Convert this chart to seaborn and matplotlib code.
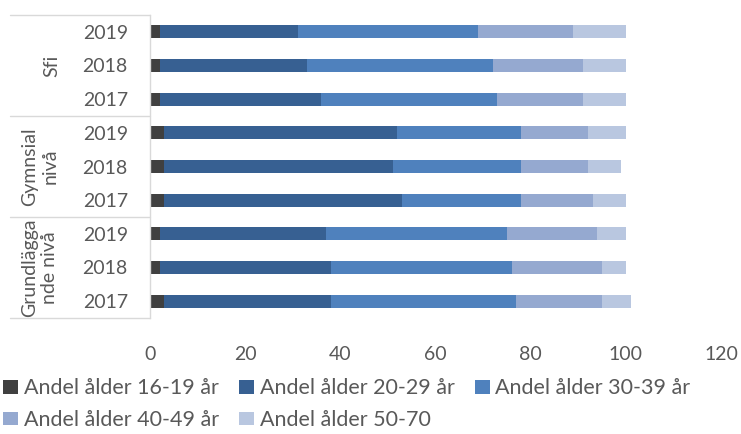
import numpy as np
import pandas as pd
import seaborn as sns
import matplotlib.pyplot as plt

# Data (andel i procent per åldersgrupp)
groups = ["Sfi", "Sfi", "Sfi",
          "Gymnsial\nnivå", "Gymnsial\nnivå", "Gymnsial\nnivå",
          "Grundlägga\nnde nivå", "Grundlägga\nnde nivå", "Grundlägga\nnde nivå"]
years = ["2019", "2018", "2017", "2019", "2018", "2017", "2019", "2018", "2017"]
series_names = ["Andel ålder 16-19 år", "Andel ålder 20-29 år", "Andel ålder 30-39 år",
                "Andel ålder 40-49 år", "Andel ålder 50-70"]
age_16_19 = [2, 2, 2, 3, 3, 3, 2, 2, 3]
age_20_29 = [29, 31, 34, 49, 48, 50, 35, 36, 35]
age_30_39 = [38, 39, 37, 26, 27, 25, 38, 38, 39]
age_40_49 = [20, 19, 18, 14, 14, 15, 19, 19, 18]
age_50_70 = [11, 9, 9, 8, 7, 7, 6, 5, 6]

colors = ["#404040", "#376092", "#4f81bd", "#95a9d0", "#b9c7e0"]
text_color = "#595959"
line_color = "#d9d9d9"

rows = [f"{g} {y}" for g, y in zip(groups, years)]
df = pd.DataFrame({"row": rows})
values = [age_16_19, age_20_29, age_30_39, age_40_49, age_50_70]
cum = np.cumsum(np.array(values), axis=0)
for name, c in zip(series_names, cum):
    df[name] = c

sns.set_style("white")
plt.rcParams["font.family"] = ["Lato", "DejaVu Sans"]

fig = plt.figure(figsize=(7.41, 4.34), dpi=100)
ax = fig.add_axes([150 / 741, 1 - 318 / 434, 571 / 741, 303 / 434])

# staplade staplar: ritar kumulativa summor bakifrån
for name, col in reversed(list(zip(series_names, colors))):
    sns.barplot(data=df, x=name, y="row", order=rows, orient="h", color=col,
                saturation=1, width=0.39, linewidth=0, label=name, ax=ax)
if ax.legend_ is not None:
    ax.legend_.remove()

ax.set_xlim(0, 120)
ax.set_ylim(len(rows) - 0.5, -0.5)
ax.set_xticks(np.arange(0, 121, 20))
ax.set_xlabel("")
ax.set_ylabel("")
ax.set_yticks(range(len(rows)))
ax.set_yticklabels(years)
ax.tick_params(axis="x", length=0, pad=20, labelsize=14, labelcolor=text_color)
ax.tick_params(axis="y", length=0, pad=16, labelsize=14, labelcolor=text_color)
for s in ["top", "right", "bottom"]:
    ax.spines[s].set_visible(False)
ax.spines["left"].set_color(line_color)
ax.spines["left"].set_linewidth(1)

# gruppetiketter och avgränsare
trans = ax.get_yaxis_transform()
for yb in [-0.5, 2.5, 5.5, 8.5]:
    ax.plot([-0.245, 0], [yb, yb], color=line_color, lw=1, transform=trans, clip_on=False)
for label, yc, xc in [(groups[0], 1, -0.172), (groups[3], 4, -0.193), (groups[6], 7, -0.193)]:
    ax.text(xc, yc, label, rotation=90, ha="center", va="center", fontsize=14,
            color=text_color, transform=trans, linespacing=1.2, multialignment="center")

handles, labels = ax.get_legend_handles_labels()
lookup = dict(zip(labels, handles))
order = [0, 3, 1, 4, 2]
fig.legend([lookup[series_names[i]] for i in order], [series_names[i] for i in order],
           loc="upper left", bbox_to_anchor=(0.0, 1 - 375 / 434), ncol=3, frameon=False,
           fontsize=15.5, labelcolor=text_color, handlelength=0.7, handleheight=0.62,
           handletextpad=0.25, columnspacing=0.95, labelspacing=0.55, borderaxespad=0,
           borderpad=0.15)

fig.savefig("out.png", dpi=100)
